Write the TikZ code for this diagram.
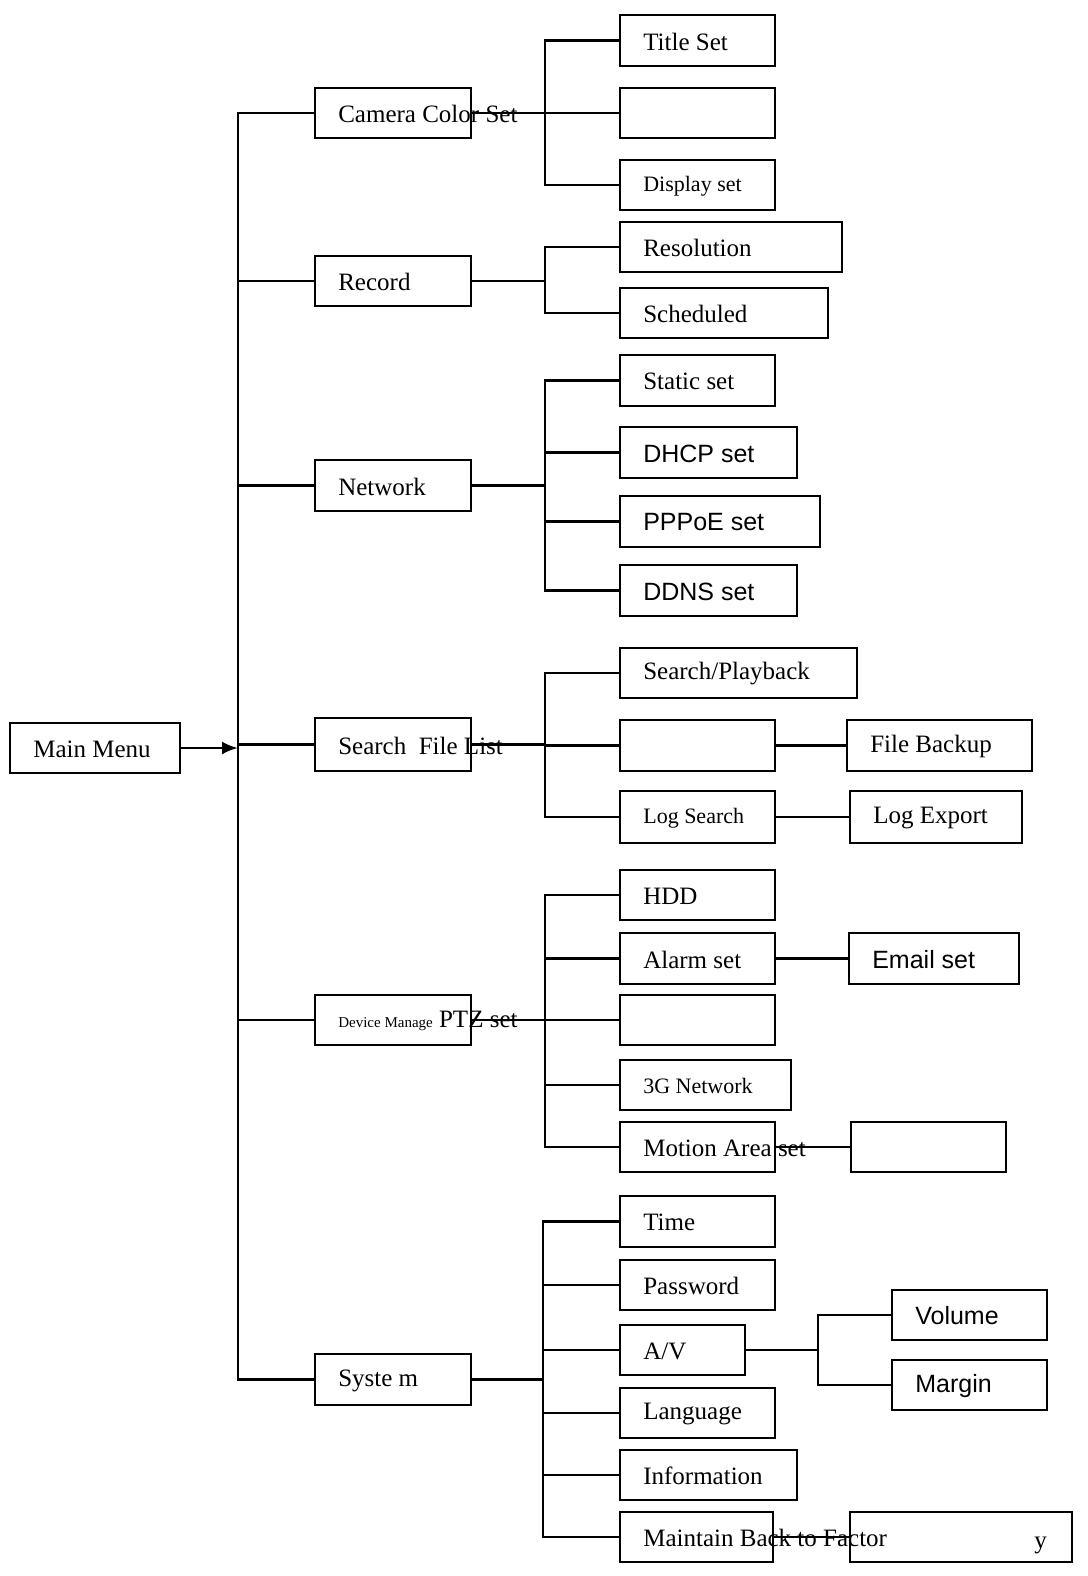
\documentclass[tikz,border=0pt]{standalone}
\usepackage{fontspec}
\setmainfont{Liberation Serif}
\newfontfamily\myss{Liberation Sans}
\usetikzlibrary{arrows.meta}
\begin{document}
\begin{tikzpicture}[x=1pt,y=-1pt,line width=2.6pt,
  box/.style={draw,rectangle,inner sep=0pt,line width=2.4pt},
  lbl/.style={anchor=west,inner sep=0pt,font=\fontsize{25}{28}\selectfont}]
\useasboundingbox (0,0) rectangle (1087,1576);
\newcommand\bx[6]{\node[box,minimum width={(#4-#2)*1pt},minimum height={(#5-#3)*1pt}] (#1) at ({(#2+#4)/2},{(#3+#5)/2}) {};
  \node[lbl] at (#2+22,{(#3+#5)/2+1}) {#6};}
\bx{main}{10}{723}{180}{773}{Main Menu}
\bx{cam}{315}{88}{471}{138}{Camera Color Set}
\bx{rec}{315}{256}{471}{306}{Record}
\bx{net}{315}{460}{471}{511}{Network}
\bx{sea}{315}{718}{471}{771}{Search\ \ File List}
\bx{dev}{315}{995}{471}{1045}{{\fontsize{15}{17}\selectfont Device Manage} PTZ set}
\bx{sys}{315}{1354}{471}{1405}{Syste m}
% camera
\bx{t1}{620}{15}{775}{66}{Title Set}
\bx{t2}{620}{88}{775}{138}{}
\bx{t3}{620}{160}{775}{210}{{\fontsize{22}{24}\selectfont Display set}}
% record
\bx{r1}{620}{222}{842}{272}{Resolution}
\bx{r2}{620}{288}{828}{338}{Scheduled}
% network
\bx{n1}{620}{355}{775}{406}{Static set}
\bx{n2}{620}{427}{797}{478}{\myss DHCP set}
\bx{n3}{620}{496}{820}{547}{\myss PPPoE set}
\bx{n4}{620}{565}{797}{616}{\myss DDNS set}
% search
\bx{s1}{620}{648}{857}{698}{Search/Playback}
\bx{s2}{620}{720}{775}{771}{}
\bx{s3}{620}{791}{775}{843}{{\fontsize{22}{24}\selectfont Log Search}}
\bx{s4}{847}{720}{1032}{771}{File Backup}
\bx{s5}{850}{791}{1022}{843}{Log Export}
% device
\bx{d1}{620}{870}{775}{920}{HDD}
\bx{d2}{620}{933}{775}{984}{Alarm set}
\bx{d3}{620}{995}{775}{1045}{}
\bx{d4}{620}{1060}{791}{1110}{{\fontsize{22}{24}\selectfont 3G Network}}
\bx{d5}{620}{1122}{775}{1172}{Motion Area set}
\bx{d6}{849}{933}{1019}{984}{\myss Email set}
\bx{d7}{851}{1122}{1006}{1172}{}
% system
\bx{y1}{620}{1196}{775}{1247}{Time}
\bx{y2}{620}{1260}{775}{1310}{Password}
\bx{y3}{620}{1325}{745}{1375}{A/V}
\bx{y4}{620}{1388}{775}{1438}{Language}
\bx{y5}{620}{1450}{797}{1500}{Information}
\bx{y6}{620}{1512}{773}{1562}{Maintain Back to Factor}
\bx{y7}{850}{1512}{1072}{1562}{}
\node[lbl] at (1033,1545) {y};
\bx{v1}{892}{1290}{1047}{1340}{\myss Volume}
\bx{v2}{892}{1360}{1047}{1410}{\myss Margin}
% connectors
\coordinate (tr) at (238,0);
\coordinate (b) at (545,0);
\coordinate (bs) at (543,0);
\coordinate (bv) at (818,0);
\draw[-{Latex[length=16pt,width=13pt]}] (main.east) -- (main.east -| tr);
\foreach \n in {cam,rec,net,sea,dev,sys} \draw (main.east -| tr) |- (\n.west);
\foreach \c in {t1,t2,t3} \draw (cam.east) -- (cam.east -| b) |- (\c.west);
\foreach \c in {r1,r2} \draw (rec.east) -- (rec.east -| b) |- (\c.west);
\foreach \c in {n1,n2,n3,n4} \draw (net.east) -- (net.east -| b) |- (\c.west);
\foreach \c in {s1,s2,s3} \draw (sea.east) -- (sea.east -| b) |- (\c.west);
\foreach \c in {d1,d2,d3,d4,d5} \draw (dev.east) -- (dev.east -| b) |- (\c.west);
\foreach \c in {y1,y2,y3,y4,y5,y6} \draw (sys.east) -- (sys.east -| bs) |- (\c.west);
\draw (s2.east) -- (s4.west);
\draw (s3.east) -- (s5.west);
\draw (d2.east) -- (d6.west);
\draw (d5.east) -- (d7.west);
\draw (y6.east) -- (y7.west);
\foreach \c in {v1,v2} \draw (y3.east) -- (y3.east -| bv) |- (\c.west);
\end{tikzpicture}
\end{document}
